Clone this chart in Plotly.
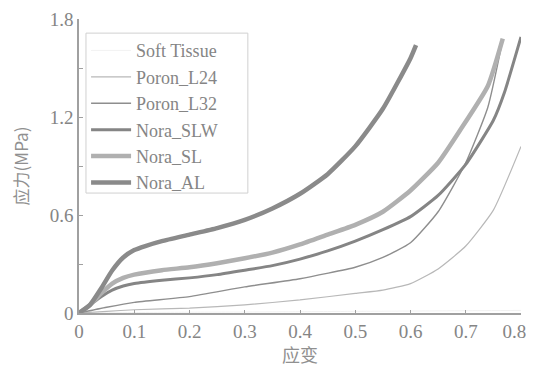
import plotly.graph_objects as go

soft_x = [0, 0.1, 0.2, 0.3, 0.4, 0.5, 0.6, 0.7, 0.8]
soft_y = [0, 0.003, 0.005, 0.006, 0.008, 0.01, 0.012, 0.014, 0.016]

l24_x = [0, 0.05, 0.1, 0.2, 0.3, 0.4, 0.5, 0.55, 0.6, 0.65, 0.7, 0.75, 0.8]
l24_y = [0, 0.01, 0.02, 0.03, 0.05, 0.08, 0.12, 0.14, 0.18, 0.27, 0.41, 0.63, 1.02]

l32_x = [0, 0.05, 0.1, 0.2, 0.3, 0.4, 0.5, 0.55, 0.6, 0.65, 0.7, 0.74, 0.765]
l32_y = [0, 0.035, 0.065, 0.10, 0.16, 0.21, 0.28, 0.34, 0.43, 0.62, 0.92, 1.26, 1.64]

slw_x = [0, 0.02, 0.04, 0.06, 0.08, 0.1, 0.15, 0.2, 0.25, 0.3, 0.35, 0.4, 0.45, 0.5, 0.55, 0.6, 0.65, 0.7, 0.75, 0.77, 0.8]
slw_y = [0, 0.05, 0.1, 0.14, 0.165, 0.18, 0.2, 0.215, 0.235, 0.262, 0.29, 0.33, 0.38, 0.44, 0.51, 0.59, 0.72, 0.91, 1.18, 1.35, 1.69]

sl_x = [0, 0.02, 0.04, 0.06, 0.08, 0.1, 0.15, 0.2, 0.25, 0.3, 0.35, 0.4, 0.45, 0.5, 0.55, 0.6, 0.65, 0.69, 0.74, 0.767]
sl_y = [0, 0.05, 0.12, 0.18, 0.215, 0.235, 0.262, 0.28, 0.305, 0.335, 0.37, 0.42, 0.48, 0.54, 0.62, 0.75, 0.92, 1.12, 1.39, 1.68]

al_x = [0, 0.02, 0.04, 0.06, 0.08, 0.1, 0.12, 0.15, 0.2, 0.25, 0.3, 0.35, 0.4, 0.45, 0.5, 0.55, 0.6, 0.61]
al_y = [0, 0.05, 0.15, 0.26, 0.34, 0.385, 0.41, 0.44, 0.48, 0.52, 0.57, 0.64, 0.73, 0.85, 1.02, 1.25, 1.56, 1.64]

x_ticks = [0, 0.1, 0.2, 0.3, 0.4, 0.5, 0.6, 0.7, 0.8]
x_tick_labels = ["0", "0.1", "0.2", "0.3", "0.4", "0.5", "0.6", "0.7", "0.8\u2002\u2009"]
y_ticks = [0, 0.6, 1.2, 1.8]
y_tick_labels = ["0", "0.6", "1.2", "1.8"]

series = [
    ("Soft Tissue", soft_x, soft_y, "#f2f2f2", 1),
    ("Poron_L24", l24_x, l24_y, "#b8b8b8", 1.2),
    ("Poron_L32", l32_x, l32_y, "#8e8e8e", 1.4),
    ("Nora_SLW", slw_x, slw_y, "#858585", 3),
    ("Nora_SL", sl_x, sl_y, "#b0b0b0", 4.5),
    ("Nora_AL", al_x, al_y, "#8a8a8a", 4.5),
]

fig = go.Figure()
for i, (name, xs, ys, col, w) in enumerate(series):
    fig.add_trace(go.Scatter(x=xs, y=ys, mode="lines", name=name,
                             line=dict(color=col, width=w, shape="spline", smoothing=0.5),
                             legendgroup=f"g{i}"))

# legend frame (wider than plotly's auto-sized box, as in the reference)
fig.add_shape(type="rect", xref="paper", yref="paper", x0=0.0158, x1=0.382, y0=0.408, y1=0.952,
              line=dict(color="#d0d0d0", width=1), fillcolor="rgba(0,0,0,0)", layer="below")

# x-axis title placed below the tick labels
fig.add_annotation(text="应变", xref="paper", yref="paper", x=0.5, y=-0.139,
                   xanchor="center", yanchor="middle", showarrow=False,
                   font=dict(family="Noto Sans CJK SC", size=18, color="#909090"))

tick_font = dict(family="Liberation Serif", size=19, color="#858585")
fig.update_layout(
    width=534, height=363,
    margin=dict(l=71, r=21, t=11, b=58),
    paper_bgcolor="white", plot_bgcolor="white",
    showlegend=True,
    legend=dict(x=0.016, y=0.955, xanchor="left", yanchor="top",
                bgcolor="rgba(255,255,255,0)", borderwidth=0,
                font=dict(family="Liberation Serif", size=18, color="#858585"),
                itemwidth=40,
                tracegroupgap=5, traceorder="normal"),
    xaxis=dict(range=[0, 0.8], tickvals=x_ticks, ticktext=x_tick_labels, automargin=False,
               ticklabeloverflow="allow",
               showgrid=False, zeroline=False, showline=True, linecolor="#a0a0a0", linewidth=1.5,
               ticks="inside", ticklen=3, tickcolor="#a0a0a0", tickfont=tick_font),
    yaxis=dict(range=[0, 1.8], tickvals=y_ticks, ticktext=y_tick_labels, automargin=False,
               showgrid=False, zeroline=False, showline=True, linecolor="#a0a0a0", linewidth=1.5,
               ticks="inside", ticklen=4, tickcolor="#a0a0a0", tickfont=tick_font,
               minor=dict(tickvals=[0.3, 0.9, 1.5], ticks="inside", ticklen=4, tickcolor="#a0a0a0"),
               title=dict(text="应力(MPa)", font=dict(family="Noto Sans CJK SC", size=17, color="#909090"), standoff=28)),
)
fig.write_html("out.html")
